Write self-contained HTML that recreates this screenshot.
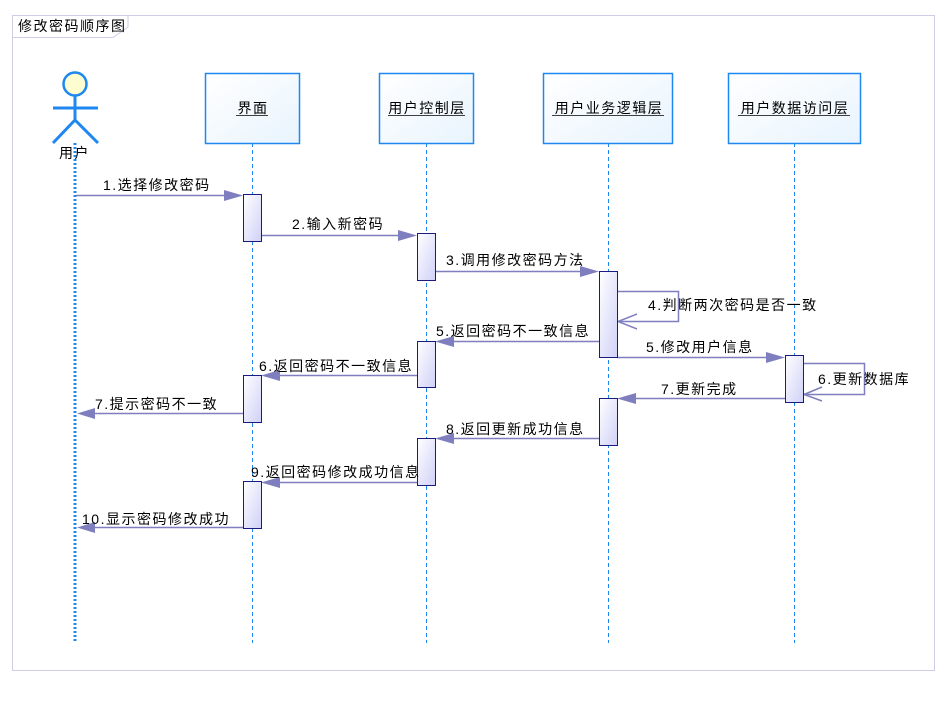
<!DOCTYPE html>
<html><head><meta charset="utf-8"><style>
html,body{margin:0;padding:0;background:#fff;}
svg text{font-family:"Liberation Sans","Noto Sans CJK SC",sans-serif;font-size:14px;letter-spacing:1.5px;fill:#000;}
</style></head><body>
<svg width="950" height="700" xmlns="http://www.w3.org/2000/svg">
<defs>
<linearGradient id="bg" x1="0" y1="0" x2="1" y2="1"><stop offset="0" stop-color="#ffffff"/><stop offset="1" stop-color="#e8f4fe"/></linearGradient>
<linearGradient id="ag" x1="0" y1="0" x2="1" y2="1"><stop offset="0" stop-color="#ffffff"/><stop offset="1" stop-color="#d0d0f8"/></linearGradient>
</defs>
<rect x="12.5" y="15.5" width="922" height="655" fill="#fff" stroke="#cdcde6"/>
<path d="M12.5 37.5 H113 L128 27 V15.5" fill="none" stroke="#cdcde6"/>
<text x="18" y="31">修改密码顺序图</text>

<!-- actor -->
<circle cx="75" cy="84" r="11.5" fill="#fdfdd0" stroke="#1e88f0" stroke-width="2.5"/>
<g stroke="#1e88f0" stroke-width="3" fill="none">
<line x1="53" y1="108" x2="98" y2="108"/><line x1="75" y1="96" x2="75" y2="121"/>
<line x1="75" y1="120" x2="53" y2="143"/><line x1="75" y1="120" x2="98" y2="143"/>
</g>
<text x="59" y="158">用户</text>
<line x1="75" y1="143" x2="75" y2="643" stroke="#1e88f0" stroke-width="3" stroke-dasharray="2,2"/>

<!-- lifelines -->
<g stroke="#1e88f0" stroke-width="1" stroke-dasharray="4,3">
<line x1="252.5" y1="143" x2="252.5" y2="643"/><line x1="426.5" y1="143" x2="426.5" y2="643"/>
<line x1="608.5" y1="143" x2="608.5" y2="643"/><line x1="794.5" y1="143" x2="794.5" y2="643"/>
</g>
<g fill="url(#bg)" stroke="#1e88f0" stroke-width="1.5">
<rect x="205.5" y="73.5" width="94" height="70"/>
<rect x="379.5" y="73.5" width="94" height="70"/>
<rect x="543.5" y="73.5" width="129" height="70"/>
<rect x="728.5" y="73.5" width="132" height="70"/>
</g>
<g text-anchor="middle">
<text x="253" y="113">界面</text><text x="427" y="113">用户控制层</text>
<text x="609" y="113">用户业务逻辑层</text><text x="795" y="113">用户数据访问层</text>
</g>
<g stroke="#000" stroke-width="0.8">
<line x1="236" y1="115.5" x2="268" y2="115.5"/><line x1="388" y1="115.5" x2="465" y2="115.5"/>
<line x1="552" y1="115.5" x2="664" y2="115.5"/><line x1="738" y1="115.5" x2="850" y2="115.5"/>
</g>

<!-- messages -->
<g stroke="#7f7fbf" stroke-width="1.5" fill="none">
<line x1="76" y1="195.5" x2="235" y2="195.5"/>
<line x1="261" y1="235.5" x2="409" y2="235.5"/>
<line x1="435" y1="271.5" x2="591" y2="271.5"/>
<polyline points="617,291.5 678.5,291.5 678.5,321.5 617,321.5"/>
<polyline points="637,314 618,321.5 637,329"/>
<line x1="443" y1="341.5" x2="599" y2="341.5"/>
<line x1="617" y1="357.5" x2="777" y2="357.5"/>
<polyline points="803,363.5 864.5,363.5 864.5,394.5 803,394.5"/>
<polyline points="822,387 804,394.5 822,401"/>
<line x1="269" y1="375.5" x2="417" y2="375.5"/>
<line x1="625" y1="398.5" x2="785" y2="398.5"/>
<line x1="83" y1="413.5" x2="243" y2="413.5"/>
<line x1="443" y1="438.5" x2="599" y2="438.5"/>
<line x1="269" y1="482.5" x2="417" y2="482.5"/>
<line x1="83" y1="527.5" x2="243" y2="527.5"/>
</g>
<g fill="#7f7fbf">
<polygon points="224,190 243,195.5 224,201"/>
<polygon points="398,230 417,235.5 398,241"/>
<polygon points="580,266 599,271.5 580,277"/>
<polygon points="454,336 435,341.5 454,347"/>
<polygon points="766,352 785,357.5 766,363"/>
<polygon points="280,370 261,375.5 280,381"/>
<polygon points="636,393 617,398.5 636,404"/>
<polygon points="95,408 77,413.5 95,419"/>
<polygon points="454,433 435,438.5 454,444"/>
<polygon points="280,477 261,482.5 280,488"/>
<polygon points="95,522 77,527.5 95,533"/>
</g>

<!-- activations -->
<g fill="url(#ag)" stroke="#1a1a80" stroke-width="1">
<rect x="243.5" y="194.5" width="18" height="47"/>
<rect x="243.5" y="375.5" width="18" height="47"/>
<rect x="243.5" y="481.5" width="18" height="47"/>
<rect x="417.5" y="233.5" width="18" height="47"/>
<rect x="417.5" y="341.5" width="18" height="46"/>
<rect x="417.5" y="438.5" width="18" height="47"/>
<rect x="599.5" y="271.5" width="18" height="86"/>
<rect x="599.5" y="398.5" width="18" height="47"/>
<rect x="785.5" y="355.5" width="18" height="47"/>
</g>

<!-- labels -->
<text x="103" y="190">1.选择修改密码</text>
<text x="292" y="229">2.输入新密码</text>
<text x="446" y="265">3.调用修改密码方法</text>
<text x="648" y="310">4.判断两次密码是否一致</text>
<text x="436" y="336">5.返回密码不一致信息</text>
<text x="646" y="352">5.修改用户信息</text>
<text x="818" y="384">6.更新数据库</text>
<text x="259" y="371">6.返回密码不一致信息</text>
<text x="661" y="394">7.更新完成</text>
<text x="95" y="409">7.提示密码不一致</text>
<text x="446" y="434">8.返回更新成功信息</text>
<text x="251" y="477">9.返回密码修改成功信息</text>
<text x="82" y="524">10.显示密码修改成功</text>
</svg>
</body></html>
